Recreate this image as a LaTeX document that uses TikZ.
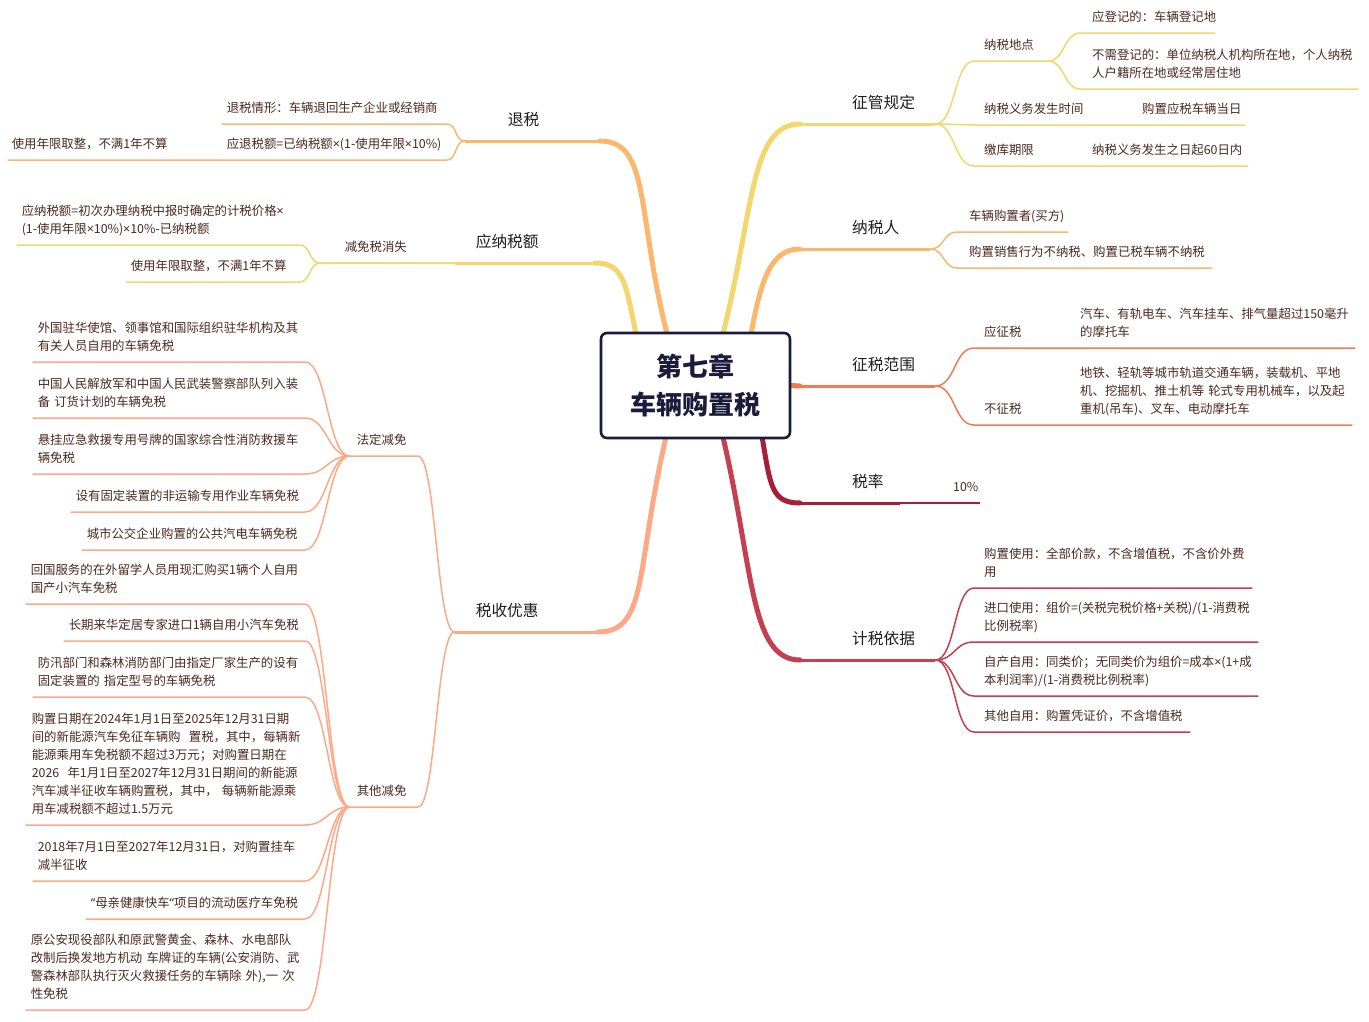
\documentclass[tikz,border=0pt]{standalone}
\usepackage{fontspec}
\setmainfont{Noto Sans CJK SC}
\newfontfamily\latinf{Noto Sans}
\newcommand{\tmul}{{\latinf ×}}
\pgfdeclarelayer{bg}
\pgfsetlayers{bg,main}
\definecolor{navy}{HTML}{1B1B3A}
\definecolor{yel}{HTML}{F2D66E}
\definecolor{org}{HTML}{FDB76C}
\definecolor{flame}{HTML}{F47B50}
\definecolor{wine}{HTML}{A61F3A}
\definecolor{crim}{HTML}{C63F50}
\definecolor{salm}{HTML}{FFA886}
\definecolor{leaftxt}{HTML}{4A2A1E}
\definecolor{titletxt}{HTML}{1E1E1E}
\hyphenpenalty=10000 \exhyphenpenalty=10000

\begin{document}
\begin{tikzpicture}[x=1pt, y=-1pt,
 core/.style={draw=navy, line width=2.6pt, rounded corners=6pt, fill=white, minimum width=189pt, minimum height=105pt, align=center, text=navy, font=\fontsize{26}{38}\selectfont\bfseries},
 topic/.style 2 args={anchor=south west, text width=#1, execute at begin node={\leftskip=#2\relax}, execute at end node={\strut}, align=left, inner xsep=0pt, inner ysep=9.5pt, text=titletxt, font=\fontsize{15.7}{20}\selectfont},
 leaf/.style 2 args={anchor=south west, text width=#1, execute at begin node={\leftskip=#2\relax}, execute at end node={\strut}, align=left, inner xsep=0pt, inner ysep=6pt, text=leaftxt, font=\fontsize{12.4}{18}\selectfont},
 trunk/.style={draw=#1, line width=5pt, line cap=round},
 bough/.style={draw=#1, line width=3pt},
 twig/.style={draw=#1, line width=1.5pt},
 scr/.style={to path={.. controls +(#1,0) and +(-#1,0) .. (\tikztotarget)}},
 scl/.style={to path={.. controls +(-#1,0) and +(#1,0) .. (\tikztotarget)}}]
\useasboundingbox (0,0) rectangle (1369,1021);
\node[core] (core) at (695.5,385.5) {第七章\\车辆购置税};

% right side
\node[topic={135pt}{52pt}] (zg) at (800,124) {征管规定};
\node[leaf={74pt}{10pt}] (nsdd) at (974,61) {纳税地点};
\node[leaf={135pt}{12pt}] (ydj) at (1080,33) {应登记的：车辆登记地};
\node[leaf={278pt}{12pt}] (bxdj) at (1080,89) {不需登记的：单位纳税人机构所在地，个人纳税\\人户籍所在地或经常居住地};
\node[leaf={151pt}{10pt}] (ywsj) at (974,125) {纳税义务发生时间};
\node[leaf={120pt}{17pt}] (gzrq) at (1125,125) {购置应税车辆当日};
\node[leaf={101pt}{10pt}] (jkqx) at (974,166) {缴库期限};
\node[leaf={173pt}{17pt}] (jkrq) at (1075,166) {纳税义务发生之日起60日内};

\node[topic={130pt}{52pt}] (nsr) at (800,249) {纳税人};
\node[leaf={111pt}{12pt}] (gzz) at (957,232) {车辆购置者(买方)};
\node[leaf={255pt}{12pt}] (bns) at (957,268) {购置销售行为不纳税、购置已税车辆不纳税};

\node[topic={135pt}{52pt}] (zsfw) at (800,386) {征税范围};
\node[leaf={94pt}{10pt}] (yzs) at (974,348) {应征税};
\node[leaf={287pt}{12pt}] (zsnr) at (1068,348) {汽车、有轨电车、汽车挂车、排气量超过150毫升\\的摩托车};
\node[leaf={94pt}{10pt}] (bzs) at (974,425) {不征税};
\node[leaf={284pt}{12pt}] (bznr) at (1068,425) {地铁、轻轨等城市轨道交通车辆，装载机、平地\\机、挖掘机、推土机等~轮式专用机械车，以及起\\重机(吊车)、叉车、电动摩托车};

\node[topic={100pt}{52pt}] (sl) at (800,503) {税率};
\node[leaf={80pt}{53pt}] (slz) at (900,503) {10\%};

\node[topic={135pt}{52pt}] (jsyj) at (800,660) {计税依据};
\node[leaf={278pt}{10pt}] (gzsy) at (974,588) {购置使用：全部价款，不含增值税，不含价外费\\用};
\node[leaf={284pt}{10pt}] (jksy) at (974,642) {进口使用：组价=(关税完税价格+关税)/(1-消费税\\比例税率)};
\node[leaf={284pt}{10pt}] (zzzy) at (974,696) {自产自用：同类价；无同类价为组价=成本\tmul(1+成\\本利润率)/(1-消费税比例税率)};
\node[leaf={216pt}{10pt}] (qtzy) at (974,732) {其他自用：购置凭证价，不含增值税};

% left side
\node[topic={135pt}{43pt}, anchor=south east] (ts) at (600,141) {退税};
\node[leaf={225pt}{5pt}, anchor=south east] (tsqx) at (447,124) {退税情形：车辆退回生产企业或经销商};
\node[leaf={225pt}{5pt}, anchor=south east] (ytse) at (447,160) {应退税额=已纳税额\tmul(1-使用年限\tmul10\%)};
\node[leaf={214pt}{4pt}, anchor=south east] (qz1) at (222,160) {使用年限取整，不满1年不算};

\node[topic={140pt}{21pt}, anchor=south east] (ynse) at (595,263) {应纳税额};
\node[leaf={135pt}{25pt}, anchor=south east] (jmsx) at (455,263) {减免税消失};
\node[leaf={283pt}{5pt}, anchor=south east] (ynsgs) at (300,245) {应纳税额=初次办理纳税中报时确定的计税价格\tmul\\(1-使用年限\tmul10\%)\tmul10\%-已纳税额};
\node[leaf={174pt}{5pt}, anchor=south east] (qz2) at (300,282) {使用年限取整，不满1年不算};

\node[topic={143pt}{21pt}, anchor=south east] (ssyh) at (598,632) {税收优惠};
\node[leaf={68pt}{7pt}, anchor=south east] (fdjm) at (418,456) {法定减免};
\node[leaf={272pt}{5pt}, anchor=south east] (wgsg) at (305,362) {外国驻华使馆、领事馆和国际组织驻华机构及其\\有关人员自用的车辆免税};
\node[leaf={272pt}{5pt}, anchor=south east] (jfj) at (305,418) {中国人民解放军和中国人民武装警察部队列入装\\备~订货计划的车辆免税};
\node[leaf={272pt}{5pt}, anchor=south east] (yjjy) at (305,474) {悬挂应急救援专用号牌的国家综合性消防救援车\\辆免税};
\node[leaf={234pt}{5pt}, anchor=south east] (gdzz) at (305,512) {设有固定装置的非运输专用作业车辆免税};
\node[leaf={223pt}{5pt}, anchor=south east] (gjqy) at (305,550) {城市公交企业购置的公共汽电车辆免税};
\node[leaf={68pt}{7pt}, anchor=south east] (qtjm) at (418,807) {其他减免};
\node[leaf={279pt}{5pt}, anchor=south east] (hgfw) at (305,604) {回国服务的在外留学人员用现汇购买1辆个人自用\\国产小汽车免税};
\node[leaf={241pt}{5pt}, anchor=south east] (cqlh) at (305,641) {长期来华定居专家进口1辆自用小汽车免税};
\node[leaf={272pt}{5pt}, anchor=south east] (fxbm) at (305,697) {防汛部门和森林消防部门由指定厂家生产的设有\\固定装置的~指定型号的车辆免税};
\node[leaf={279pt}{6pt}, anchor=south east] (xny) at (305,825) {购置日期在2024年1月1日至2025年12月31日期\\间的新能源汽车免征车辆购~~置税，其中，每辆新\\能源乘用车免税额不超过3万元；对购置日期在\\2026~~年1月1日至2027年12月31日期间的新能源\\汽车减半征收车辆购置税，其中，~每辆新能源乘\\用车减税额不超过1.5万元};
\node[leaf={272pt}{5pt}, anchor=south east] (gc) at (305,881) {2018年7月1日至2027年12月31日，对购置挂车\\减半征收};
\node[leaf={219pt}{5pt}, anchor=south east] (mqjk) at (305,919) {{\latinf “}母亲健康快车{\latinf “}项目的流动医疗车免税};
\node[leaf={279pt}{5pt}, anchor=south east] (gawj) at (305,1010) {原公安现役部队和原武警黄金、森林、水电部队\\改制后换发地方机动~车牌证的车辆(公安消防、武\\警森林部队执行灭火救援任务的车辆除~外),一~次\\性免税};

\begin{pgfonlayer}{bg}
\fill[white] (0,0) rectangle (1369,1021);
% 征管规定
\draw[trunk=yel] ([xshift=28pt]core.north) .. controls +(30,-120) and +(-50,0) .. (zg.south west);
\draw[bough=yel] (zg.south west) -- (zg.south east);
\draw[twig=yel] (zg.south east) to[scr=20] (nsdd.south west) -- (nsdd.south east);
\draw[twig=yel] (nsdd.south east) to[scr=16] (ydj.south west) -- (ydj.south east);
\draw[twig=yel] (nsdd.south east) to[scr=16] (bxdj.south west) -- (bxdj.south east);
\draw[twig=yel] (zg.south east) to[scr=20] (ywsj.south west) -- (ywsj.south east) -- (gzrq.south east);
\draw[twig=yel] (zg.south east) to[scr=20] (jkqx.south west) -- (jkqx.south east) -- (jkrq.south east);
% 纳税人
\draw[trunk=org] ([xshift=56pt]core.north) .. controls +(10,-55) and +(-28,0) .. (nsr.south west);
\draw[bough=org] (nsr.south west) -- (nsr.south east);
\draw[twig=org] (nsr.south east) to[scr=14] (gzz.south west) -- (gzz.south east);
\draw[twig=org] (nsr.south east) to[scr=14] (bns.south west) -- (bns.south east);
% 征税范围
\draw[trunk=flame] (core.east) -- (zsfw.south west);
\draw[bough=flame] (zsfw.south west) -- (zsfw.south east);
\draw[twig=flame] (zsfw.south east) to[scr=20] (yzs.south west) -- (yzs.south east) -- (zsnr.south east);
\draw[twig=flame] (zsfw.south east) to[scr=20] (bzs.south west) -- (bzs.south east) -- (bznr.south east);
% 税率
\draw[trunk=wine] ([xshift=67pt]core.south) .. controls +(8,48) and +(-28,0) .. (sl.south west);
\draw[bough=wine] (sl.south west) -- (sl.south east);
\draw[twig=wine] (sl.south east) -- (slz.south east);
% 计税依据
\draw[trunk=crim] ([xshift=28pt]core.south) .. controls +(30,130) and +(-50,0) .. (jsyj.south west);
\draw[bough=crim] (jsyj.south west) -- (jsyj.south east);
\foreach \n in {gzsy,jksy,zzzy,qtzy}
  \draw[twig=crim] (jsyj.south east) to[scr=20] (\n.south west) -- (\n.south east);
% 退税
\draw[trunk=org] ([xshift=-29pt]core.north) .. controls +(-30,-120) and +(50,0) .. (ts.south east);
\draw[bough=org] (ts.south east) -- (ts.south west);
\draw[twig=org] (ts.south west) to[scl=10] (tsqx.south east) -- (tsqx.south west);
\draw[twig=org] (ts.south west) to[scl=10] (ytse.south east) -- (ytse.south west) -- (qz1.south west);
% 应纳税额
\draw[trunk=yel] ([xshift=-60pt]core.north) .. controls +(-10,-50) and +(28,0) .. (ynse.south east);
\draw[bough=yel] (ynse.south east) -- (ynse.south west);
\draw[twig=yel] (ynse.south west) -- (jmsx.south west);
\draw[twig=yel] (jmsx.south west) to[scl=10] (ynsgs.south east) -- (ynsgs.south west);
\draw[twig=yel] (jmsx.south west) to[scl=10] (qz2.south east) -- (qz2.south west);
% 税收优惠
\draw[trunk=salm] ([xshift=-30pt]core.south) .. controls +(-30,130) and +(50,0) .. (ssyh.south east);
\draw[bough=salm] (ssyh.south east) -- (ssyh.south west);
\draw[twig=salm] (ssyh.south west) to[scl=18] (fdjm.south east) -- (fdjm.south west);
\draw[twig=salm] (ssyh.south west) to[scl=18] (qtjm.south east) -- (qtjm.south west);
\foreach \n in {wgsg,jfj,yjjy,gdzz,gjqy}
  \draw[twig=salm] (fdjm.south west) to[scl=22] (\n.south east) -- (\n.south west);
\foreach \n in {hgfw,cqlh,fxbm,xny,gc,mqjk,gawj}
  \draw[twig=salm] (qtjm.south west) to[scl=22] (\n.south east) -- (\n.south west);
\end{pgfonlayer}
\end{tikzpicture}
\end{document}
